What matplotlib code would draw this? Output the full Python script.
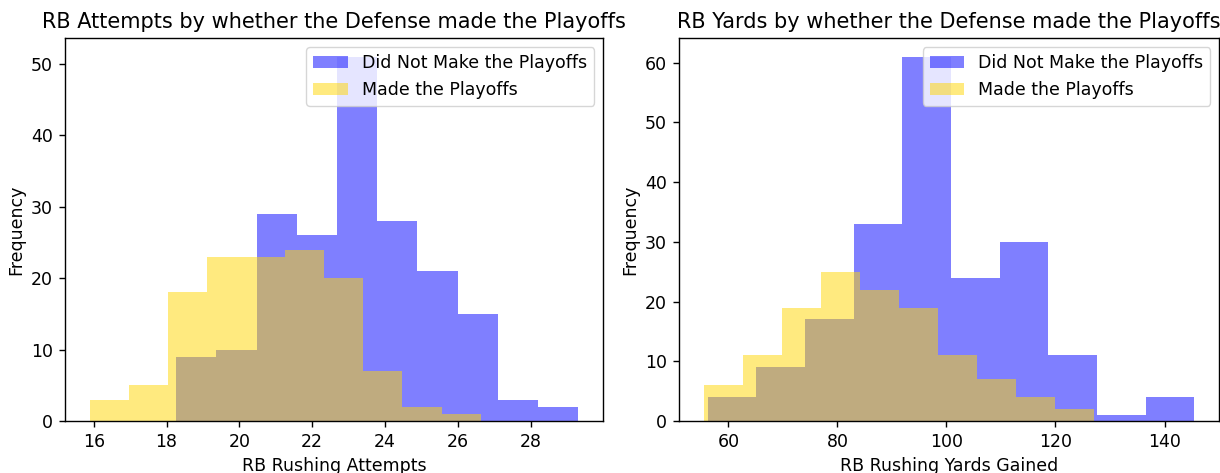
import matplotlib
matplotlib.use("Agg")
import matplotlib.pyplot as plt
import numpy as np

# Rushing attempts histogram (bin edges and counts per group)
att_missed_edges = [18.27, 19.37, 20.48, 21.58, 22.69, 23.79, 24.89, 26.00, 27.10, 28.20, 29.31]
att_missed_counts = [9, 10, 29, 26, 51, 28, 21, 15, 3, 2]
att_made_edges = [15.89, 16.96, 18.04, 19.11, 20.19, 21.26, 22.33, 23.41, 24.48, 25.56, 26.63]
att_made_counts = [3, 5, 18, 23, 23, 24, 20, 7, 2, 1]

# Rushing yards histogram (bin edges and counts per group)
yds_missed_edges = [56.2, 65.1, 74.1, 83.0, 91.9, 100.9, 109.8, 118.7, 127.7, 136.6, 145.5]
yds_missed_counts = [4, 9, 17, 33, 61, 24, 30, 11, 1, 4]
yds_made_edges = [55.5, 62.66, 69.82, 76.98, 84.14, 91.3, 98.46, 105.6, 112.8, 119.9, 127.1]
yds_made_counts = [6, 11, 19, 25, 22, 19, 11, 7, 4, 2]

labels = ["Did Not Make the Playoffs", "Made the Playoffs"]

s = 1.25
plt.rcParams.update({
    "font.size": 10 * s,
    "axes.titlesize": 12 * s,
    "axes.linewidth": 0.8 * s,
    "xtick.major.size": 3.5 * s,
    "ytick.major.size": 3.5 * s,
    "xtick.major.width": 0.8 * s,
    "ytick.major.width": 0.8 * s,
    "xtick.major.pad": 3.5 * s,
    "ytick.major.pad": 3.5 * s,
    "axes.titlepad": 6 * s,
    "axes.labelpad": 3.5 * s,
})

fig = plt.figure(figsize=(12.2, 4.73), dpi=100)
ax1 = fig.add_axes([0.0535, 0.1099, 0.4405, 0.809])
ax2 = fig.add_axes([0.5568, 0.1099, 0.4424, 0.809])


def draw(ax, missed_edges, missed_counts, made_edges, made_counts, title, xlabel):
    ax.hist(missed_edges[:-1], bins=missed_edges, weights=missed_counts,
            color="blue", alpha=0.5, label=labels[0])
    ax.hist(made_edges[:-1], bins=made_edges, weights=made_counts,
            color="gold", alpha=0.5, label=labels[1])
    ax.set_title(title)
    ax.set_xlabel(xlabel)
    ax.set_ylabel("Frequency")
    ax.legend(loc="upper right")


draw(ax1, att_missed_edges, att_missed_counts, att_made_edges, att_made_counts,
     "RB Attempts by whether the Defense made the Playoffs", "RB Rushing Attempts")
draw(ax2, yds_missed_edges, yds_missed_counts, yds_made_edges, yds_made_counts,
     "RB Yards by whether the Defense made the Playoffs", "RB Rushing Yards Gained")

fig.savefig("out.png", dpi=100)
